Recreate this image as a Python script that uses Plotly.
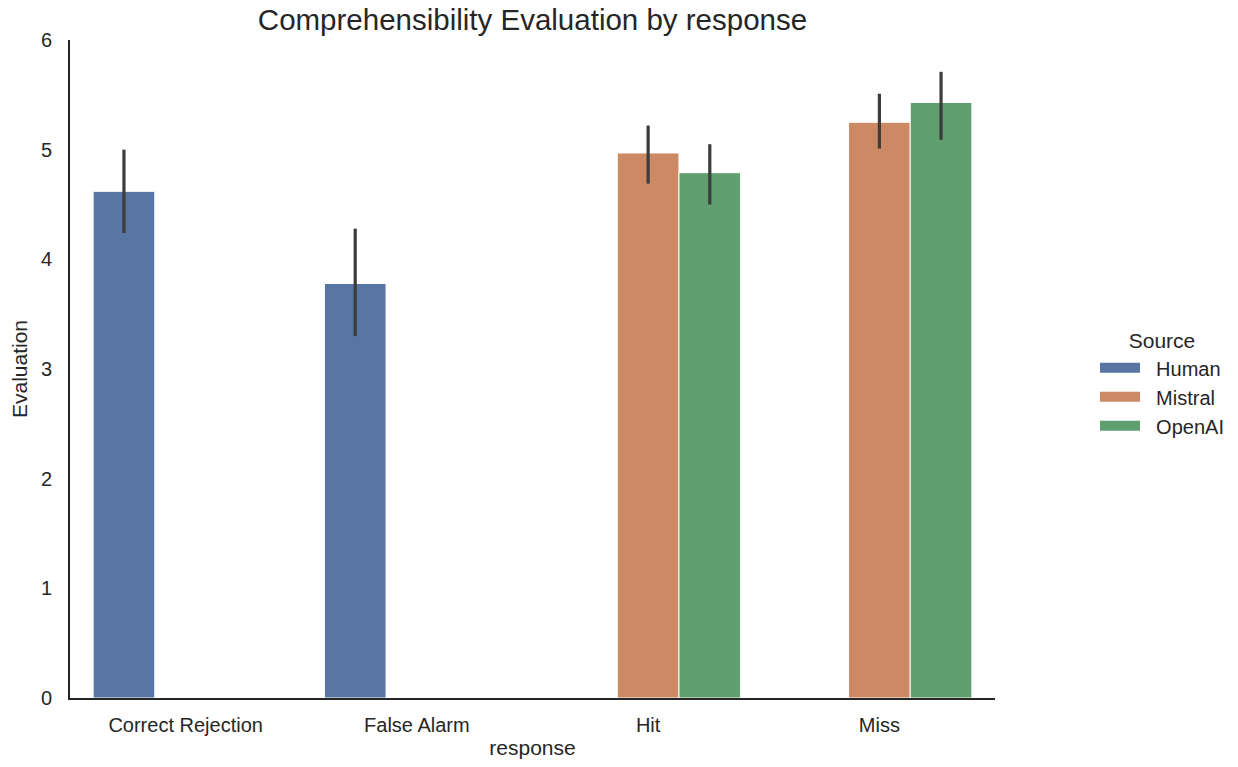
import plotly.graph_objects as go

# Mean comprehensibility evaluation per response type and source, with 95% CI bounds
responses = ["Correct Rejection", "False Alarm", "Hit", "Miss"]
sources = ["Human", "Mistral", "OpenAI"]

human_mean = [4.62, 3.78, None, None]
human_hi = [5.00, 4.28, None, None]
human_lo = [4.24, 3.30, None, None]

mistral_mean = [None, None, 4.97, 5.25]
mistral_hi = [None, None, 5.22, 5.51]
mistral_lo = [None, None, 4.69, 5.01]

openai_mean = [None, None, 4.79, 5.43]
openai_hi = [None, None, 5.05, 5.71]
openai_lo = [None, None, 4.50, 5.09]

colors = {"Human": "#5975a4", "Mistral": "#cc8963", "OpenAI": "#5f9e6e"}

series = {
    "Human": (human_mean, human_hi, human_lo),
    "Mistral": (mistral_mean, mistral_hi, mistral_lo),
    "OpenAI": (openai_mean, openai_hi, openai_lo),
}

FONT = "Liberation Sans, Arial, sans-serif"
INK = "#262626"

fig = go.Figure()
for name in sources:
    mean, hi, lo = series[name]
    plus = [None if m is None else h - m for m, h in zip(mean, hi)]
    minus = [None if m is None else m - l for m, l in zip(mean, lo)]
    fig.add_trace(go.Bar(
        x=responses, y=mean, name=name, showlegend=False,
        marker=dict(color=colors[name], line=dict(color="white", width=1)),
        error_y=dict(type="data", array=plus, arrayminus=minus, symmetric=False,
                     color="#3c3c3c", thickness=3.2, width=0),
    ))
    # wide swatch legend entry
    fig.add_trace(go.Scatter(
        x=[None], y=[None], mode="lines", name="  " + name, legendgroup=name,
        line=dict(color=colors[name], width=13),
    ))

fig.update_layout(
    width=1238, height=767,
    paper_bgcolor="white", plot_bgcolor="white",
    margin=dict(l=70, r=243, t=40, b=69, autoexpand=False),
    barmode="group", bargap=0.2, bargroupgap=0,
    font=dict(family=FONT, color=INK, size=20),
    title=dict(text="Comprehensibility Evaluation by response",
               x=(70 + 995) / 2 / 1238, xanchor="center", y=0.974, yanchor="middle",
               font=dict(size=29.5, color=INK)),
    xaxis=dict(range=[-0.5, 3.5], showgrid=False, zeroline=False,
               showline=True, linecolor=INK, linewidth=1.8, ticks="",
               ticklabelstandoff=8,
               tickfont=dict(size=20, color=INK),
               title=dict(text="response", font=dict(size=21, color=INK), standoff=5)),
    yaxis=dict(range=[0, 6], dtick=1, showgrid=False, zeroline=False,
               showline=True, linecolor=INK, linewidth=1.8, ticks="",
               ticklabelstandoff=12,
               tickfont=dict(size=20, color=INK),
               title=dict(text="Evaluation", font=dict(size=21, color=INK), standoff=8)),
    legend=dict(x=(1095 - 70) / 925, xanchor="left", y=0.478, yanchor="middle",
                traceorder="grouped",
                title=dict(text="Source", font=dict(size=21, color=INK), side="top center"),
                font=dict(size=20, color=INK), itemwidth=40, tracegroupgap=0,
                bgcolor="rgba(0,0,0,0)"),
)

fig.write_html("out.html")
